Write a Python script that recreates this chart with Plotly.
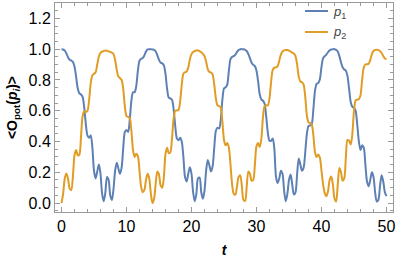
import plotly.graph_objects as go

# sampling grid for time t (0 .. 50, step 0.25)
t_values = [round(0.25 * i, 2) for i in range(201)]

# p1, per period segment
p1_seg1 = [1.000, 0.998, 0.990, 0.972, 0.948, 0.932, 0.926, 0.918, 0.888, 0.820, 0.745, 0.712, 0.706, 0.690,
           0.620, 0.510, 0.438, 0.425, 0.440, 0.360, 0.210, 0.160, 0.205, 0.250, 0.190, 0.060, 0.012, 0.070,
           0.170, 0.150, 0.050, 0.020, 0.090, 0.210, 0.262, 0.225, 0.190, 0.230, 0.360, 0.462, 0.475, 0.462,
           0.540, 0.665, 0.720, 0.720, 0.760, 0.860, 0.925, 0.938, 0.942, 0.960, 0.985, 0.998, 1.000, 1.000, 0.998]
p1_seg2 = [0.996, 0.985, 0.960, 0.930, 0.912, 0.908, 0.895, 0.840, 0.740, 0.685, 0.680, 0.672, 0.610, 0.500,
           0.420, 0.408, 0.425, 0.400, 0.300, 0.170, 0.140, 0.190, 0.232, 0.190, 0.070, 0.012, 0.060, 0.160,
           0.165, 0.070, 0.028, 0.080, 0.210, 0.280, 0.245, 0.205, 0.240, 0.360, 0.470, 0.490, 0.485, 0.540,
           0.670, 0.745, 0.752, 0.770, 0.860, 0.935, 0.950, 0.955, 0.965, 0.982, 0.994, 1.000, 1.000, 0.999]
p1_seg3 = [0.996, 0.988, 0.968, 0.940, 0.912, 0.898, 0.890, 0.860, 0.790, 0.705, 0.672, 0.665, 0.645, 0.560,
           0.455, 0.405, 0.405, 0.420, 0.350, 0.170, 0.130, 0.160, 0.210, 0.190, 0.080, 0.012, 0.060, 0.150,
           0.185, 0.120, 0.055, 0.070, 0.190, 0.290, 0.250, 0.210, 0.230, 0.330, 0.450, 0.500, 0.505, 0.515,
           0.610, 0.730, 0.775, 0.780, 0.805, 0.885, 0.942, 0.955, 0.965, 0.980, 0.992, 0.998, 1.000, 1.000]
p1_seg4 = [0.996, 0.985, 0.955, 0.915, 0.882, 0.868, 0.860, 0.825, 0.740, 0.655, 0.625, 0.620, 0.600, 0.510,
           0.400, 0.345, 0.375, 0.360, 0.250, 0.140, 0.110, 0.150, 0.200, 0.170, 0.070, 0.010, 0.020, 0.110,
           0.180, 0.140, 0.070, 0.045]

# p2, per period segment
p2_seg1 = [0.000, 0.060, 0.160, 0.192, 0.160, 0.095, 0.085, 0.170, 0.310, 0.345, 0.310, 0.315, 0.430, 0.565,
           0.595, 0.592, 0.600, 0.670, 0.780, 0.830, 0.840, 0.850, 0.900, 0.952, 0.976, 0.984, 0.988, 0.992,
           0.990, 0.986, 0.982, 0.978, 0.968, 0.930, 0.865, 0.822, 0.812, 0.800, 0.740, 0.625, 0.565, 0.560,
           0.552, 0.470, 0.345, 0.300, 0.320, 0.305, 0.210, 0.105, 0.070, 0.085, 0.150, 0.190, 0.160, 0.060, 0.000]
p2_seg2 = [0.030, 0.130, 0.205, 0.185, 0.115, 0.100, 0.170, 0.320, 0.360, 0.325, 0.330, 0.420, 0.550, 0.600,
           0.602, 0.605, 0.660, 0.770, 0.840, 0.850, 0.855, 0.880, 0.935, 0.968, 0.982, 0.988, 0.992, 0.992,
           0.988, 0.980, 0.970, 0.955, 0.920, 0.870, 0.852, 0.848, 0.835, 0.770, 0.680, 0.635, 0.630, 0.622,
           0.530, 0.410, 0.375, 0.390, 0.360, 0.250, 0.120, 0.060, 0.055, 0.110, 0.170, 0.180, 0.110, 0.020]
p2_seg3 = [0.015, 0.110, 0.205, 0.190, 0.145, 0.150, 0.250, 0.370, 0.390, 0.365, 0.420, 0.560, 0.630, 0.635,
           0.635, 0.680, 0.790, 0.865, 0.880, 0.882, 0.890, 0.925, 0.965, 0.985, 0.992, 0.995, 0.994, 0.990,
           0.984, 0.978, 0.972, 0.955, 0.900, 0.820, 0.790, 0.785, 0.770, 0.690, 0.570, 0.525, 0.520, 0.510,
           0.440, 0.330, 0.300, 0.315, 0.295, 0.210, 0.120, 0.065, 0.045, 0.075, 0.150, 0.172, 0.120, 0.030]
p2_seg4 = [0.010, 0.120, 0.228, 0.200, 0.145, 0.160, 0.300, 0.410, 0.405, 0.380, 0.450, 0.600, 0.668, 0.672,
           0.675, 0.700, 0.800, 0.880, 0.900, 0.902, 0.905, 0.930, 0.968, 0.988, 0.995, 0.996, 0.994, 0.988,
           0.975, 0.955, 0.940, 0.935]

p1_values = p1_seg1 + p1_seg2 + p1_seg3 + p1_seg4
p2_values = p2_seg1 + p2_seg2 + p2_seg3 + p2_seg4

x_tick_vals = [0, 10, 20, 30, 40, 50]
x_tick_text = ["0", "10", "20", "30", "40", "50"]
y_tick_vals = [0.0, 0.2, 0.4, 0.6, 0.8, 1.0, 1.2]
y_tick_text = ["0.0", "0.2", "0.4", "0.6", "0.8", "1.0", "1.2"]

series_names = ["<i>p</i><sub>1</sub>", "<i>p</i><sub>2</sub>"]
series_colors = ["#5E81B5", "#E19C24"]

fig = go.Figure()
for name, vals, col in zip(series_names, [p1_values, p2_values], series_colors):
    fig.add_trace(go.Scatter(x=t_values, y=vals, mode="lines", name=name, showlegend=False,
                             line=dict(color=col, width=2, shape="spline", smoothing=0.8)))

# hand-made legend (line sample + label), positioned in paper coordinates
W, H, L, B = 338, 209, 55, 47
def px_x(p):
    return (p - L) / W
def px_y(p):
    return (259 - B - p) / H

legend_rows_px = [11, 32]
for name, col, ry in zip(series_names, series_colors, legend_rows_px):
    fig.add_shape(type="line", xref="paper", yref="paper",
                  x0=px_x(305), x1=px_x(328), y0=px_y(ry), y1=px_y(ry),
                  line=dict(color=col, width=2))
    fig.add_annotation(xref="paper", yref="paper", x=px_x(331), y=px_y(ry + 1),
                       xanchor="left", yanchor="middle", showarrow=False,
                       text=name, font=dict(size=13, color="#444444"))

frame = "#9a9a9a"
fig.update_layout(
    width=397, height=259,
    margin=dict(l=L, r=4, t=3, b=B),
    paper_bgcolor="white", plot_bgcolor="white",
    font=dict(family="Liberation Sans", color="black"),
    showlegend=False,
)
fig.update_xaxes(
    range=[-1, 51], tickmode="array", tickvals=x_tick_vals, ticktext=x_tick_text,
    ticks="inside", ticklen=5, tickwidth=1, tickcolor=frame,
    minor=dict(dtick=2, tick0=0, ticks="inside", ticklen=3, tickcolor=frame),
    showline=True, linecolor=frame, linewidth=1, mirror="ticks",
    showgrid=False, zeroline=False, automargin=False,
    tickfont=dict(size=16, color="black"),
    title=dict(text="<b><i>t</i></b>", font=dict(size=14), standoff=10),
)
fig.update_yaxes(
    range=[-0.058, 1.3], tickmode="array", tickvals=y_tick_vals, ticktext=y_tick_text,
    ticks="inside", ticklen=5, tickwidth=1, tickcolor=frame,
    minor=dict(dtick=0.05, tick0=0, ticks="inside", ticklen=3, tickcolor=frame),
    showline=True, linecolor=frame, linewidth=1, mirror="ticks",
    showgrid=False, zeroline=False, automargin=False,
    tickfont=dict(size=16, color="black"),
    title=dict(text="<b>&lt;O<sub>pot</sub>(<i>p<sub>i</sub></i>)&gt;</b>", font=dict(size=14), standoff=7),
)

fig.write_html("out.html", config={"displayModeBar": False},
               post_script="document.body.style.margin='0px';document.body.style.overflow='hidden';")
